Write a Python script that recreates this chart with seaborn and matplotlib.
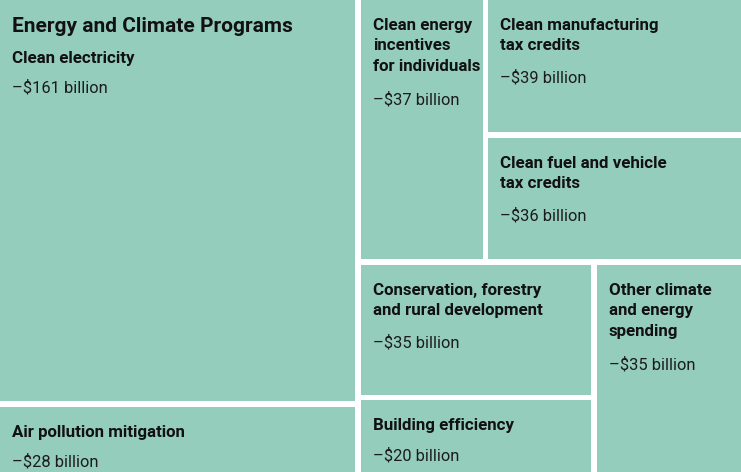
import numpy as np
import pandas as pd
import matplotlib
matplotlib.use("Agg")
import matplotlib.pyplot as plt
import seaborn as sns

sns.set_theme(style="white")
plt.rcParams['font.family'] = ['Roboto', 'DejaVu Sans']

# --- data ---
title = "Energy and Climate Programs"
labels = [
    "Clean electricity",
    "Air pollution mitigation",
    "Clean energy\nincentives\nfor individuals",
    "Clean manufacturing\ntax credits",
    "Clean fuel and vehicle\ntax credits",
    "Conservation, forestry\nand rural development",
    "Building efficiency",
    "Other climate\nand energy\nspending",
]
values = [161, 28, 37, 39, 36, 35, 20, 35]
amounts = ["–$%d billion" % v for v in values]

# treemap nesting: 'h' = side by side, 'v' = stacked (indices into values)
tree = ('h', [('v', [0, 1]),
              ('v', [('h', [2, ('v', [3, 4])]),
                     ('h', [('v', [5, 6]), 7])])])

W, H = 741, 472
gap = 5.5
fill = '#94cdbb'


def node_sum(node):
    if isinstance(node, int):
        return values[node]
    return sum(node_sum(k) for k in node[1])


def place(node, x, y, w, h, out):
    if isinstance(node, int):
        out[node] = (x, y, w, h)
        return
    d, kids = node
    tot = node_sum(node)
    pos = 0.0
    for k in kids:
        frac = node_sum(k) / tot
        if d == 'h':
            place(k, x + pos * w, y, frac * w, h, out)
        else:
            place(k, x, y + pos * h, w, frac * h, out)
        pos += frac


rects = {}
place(tree, -gap / 2, -gap / 2, W + gap, H + gap, rects)

fig = plt.figure(figsize=(W / 100, H / 100), dpi=100)
ax = fig.add_axes([0, 0, 1, 1])
ax.set_xlim(0, W)
ax.set_ylim(H, 0)
ax.axis('off')

for i in range(len(values)):
    x, y, w, h = rects[i]
    x0, y0 = x + gap / 2, y + gap / 2
    ax.bar(x0, h - gap, width=w - gap, bottom=y0, align='edge',
           color=fill, linewidth=0)

    tx = x0 + 12
    ty = y0 + 30
    if i == 0:
        ax.text(tx, y0 + 32, title, fontsize=15, fontweight='bold',
                color='#111111', va='baseline', ha='left')
        ty = y0 + 63
    lines = labels[i].split('\n')
    for j, line in enumerate(lines):
        ax.text(tx, ty + j * 20.5, line, fontsize=12.2, fontweight='bold',
                color='#111111', va='baseline', ha='left')
    ay = ty + (len(lines) - 1) * 20.5 + 30 + 2 * (len(lines) - 1)
    ax.text(tx, ay, amounts[i], fontsize=11.9, color='#1c1c1c',
            va='baseline', ha='left')

fig.savefig('out.png', dpi=100)
